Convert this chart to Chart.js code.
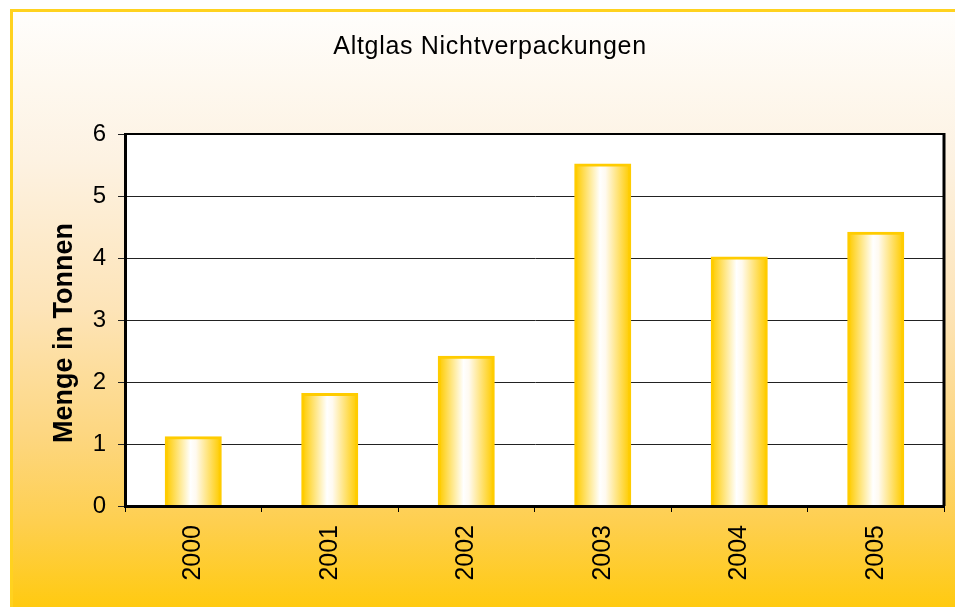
<!DOCTYPE html>
<html>
<head>
<meta charset="utf-8">
<script src="https://cdn.jsdelivr.net/npm/chart.js@4"></script>
<style>
html,body{margin:0;padding:0;background:#fff;}
#wrap{width:955px;height:607px;position:relative;}
</style>
</head>
<body>
<div id="wrap"><canvas id="c" width="955" height="607"></canvas></div>
<script>
const chartTitle = "Altglas Nichtverpackungen";
const yAxisTitle = "Menge in Tonnen";
const categories = ["2000", "2001", "2002", "2003", "2004", "2005"];
const values = [1.1, 1.8, 2.4, 5.5, 4.0, 4.4];
const yTicks = [0, 1, 2, 3, 4, 5, 6];

const FONT = "'Liberation Sans', Arial, sans-serif";
const BAR_PCT = 0.396;

const bgPlugin = {
  id: 'bg',
  beforeDraw(chart) {
    const ctx = chart.ctx;
    const W = chart.width, H = chart.height;
    ctx.save();
    ctx.fillStyle = '#ffffff';
    ctx.fillRect(0, 0, W, H);
    const g = ctx.createLinearGradient(0, 10, 0, H);
    g.addColorStop(0, '#fffefc');
    g.addColorStop(0.25, '#fdf2e2');
    g.addColorStop(0.5, '#fde4b8');
    g.addColorStop(0.72, '#fdd67e');
    g.addColorStop(0.86, '#fecf4f');
    g.addColorStop(1, '#ffca10');
    ctx.fillStyle = g;
    ctx.fillRect(10, 9, W, H);
    ctx.strokeStyle = '#ffd21f';
    ctx.lineWidth = 3;
    ctx.beginPath();
    ctx.moveTo(11.5, H + 5);
    ctx.lineTo(11.5, 10.5);
    ctx.lineTo(W + 5, 10.5);
    ctx.stroke();
    const a = chart.chartArea;
    ctx.fillStyle = '#ffffff';
    ctx.fillRect(a.left, a.top, a.right - a.left, a.bottom - a.top);
    ctx.restore();
  },
  afterDraw(chart) {
    const ctx = chart.ctx;
    const a = chart.chartArea;
    ctx.save();
    ctx.strokeStyle = '#000';
    ctx.lineWidth = 2;
    ctx.beginPath();
    ctx.moveTo(a.left, a.top);
    ctx.lineTo(a.right, a.top);
    ctx.stroke();
    ctx.lineWidth = 3;
    ctx.beginPath();
    ctx.moveTo(a.right, a.top - 1);
    ctx.lineTo(a.right, a.bottom);
    ctx.stroke();
    // titles
    ctx.fillStyle = '#000';
    ctx.font = '25px ' + FONT;
    ctx.letterSpacing = '0.7px';
    ctx.textAlign = 'center';
    ctx.textBaseline = 'alphabetic';
    ctx.fillText(chartTitle, 490, 54);
    ctx.letterSpacing = '0px';
    ctx.font = 'bold 27px ' + FONT;
    ctx.translate(72, 333);
    ctx.rotate(-Math.PI / 2);
    ctx.fillText(yAxisTitle, 0, 0);
    ctx.restore();
  }
};

function barFill(context) {
  const chart = context.chart;
  const xs = chart.scales.x;
  if (!chart.chartArea || !xs) return '#ffe38a';
  const cx = xs.getPixelForValue(context.dataIndex);
  const w = (xs.width / categories.length) * BAR_PCT;
  const g = chart.ctx.createLinearGradient(cx - w / 2, 0, cx + w / 2, 0);
  g.addColorStop(0, '#ffcc00');
  g.addColorStop(0.45, '#ffffff');
  g.addColorStop(0.55, '#fffaf0');
  g.addColorStop(1, '#ffcc00');
  return g;
}

new Chart(document.getElementById('c'), {
  type: 'bar',
  data: {
    labels: categories,
    datasets: [{
      data: values,
      backgroundColor: barFill,
      borderColor: '#ffcc00',
      borderWidth: 3,
      inflateAmount: 1.5,
      borderSkipped: 'bottom',
      barPercentage: BAR_PCT,
      categoryPercentage: 1
    }]
  },
  options: {
    responsive: false,
    animation: false,
    devicePixelRatio: 1,
    layout: { padding: { left: 36, right: 11, top: 134, bottom: 0 } },
    plugins: { legend: { display: false }, title: { display: false }, tooltip: { enabled: false } },
    scales: {
      x: {
        grid: { display: true, drawOnChartArea: false, drawTicks: true, tickLength: 6, color: '#000', offset: true },
        border: { display: true, color: '#000', width: 3, z: 1 },
        ticks: {
          color: '#000', font: { family: FONT, size: 25 },
          minRotation: 90, maxRotation: 90, autoSkip: false, padding: 13
        },
        afterFit(s) { s.height = 101; }
      },
      y: {
        min: 0, max: 6,
        afterBuildTicks(s) { s.ticks = yTicks.map(v => ({ value: v })); },
        grid: { color: '#222', lineWidth: 1, drawTicks: true, tickLength: 7 },
        border: { display: true, color: '#000', width: 3 },
        ticks: { color: '#000', font: { family: FONT, size: 24 }, padding: 12 },
        afterFit(s) { s.width = 89; }
      }
    }
  },
  plugins: [bgPlugin]
});
</script>
</body>
</html>
